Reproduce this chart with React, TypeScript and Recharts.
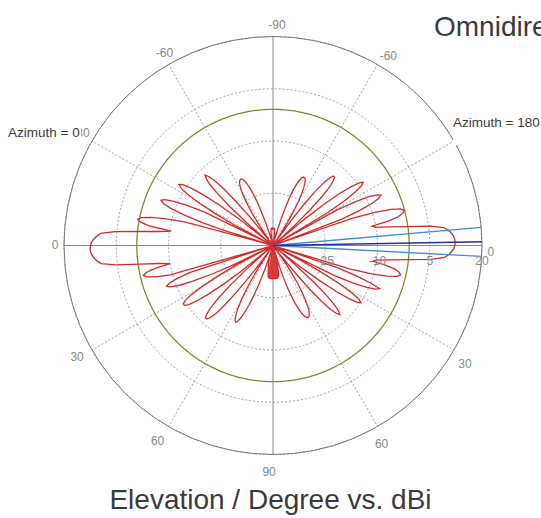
import React from 'react';
import { RadarChart, Radar, PolarGrid, PolarAngleAxis, PolarRadiusAxis } from 'recharts';

// Gain (dBi) versus elevation magnitude 0..90 deg, one value per degree
// Right side (Azimuth = 180), upper half (elevation 0 .. -90)
const gainRightUpper = [
  12.3, 12.2, 11.9, 11.3, 10.5, 9.3, 5.5, -1, -6, -10,
  -11, -6, -3, -1.6, -0.95, -1.9, -4.5, -9, -16, -40,
  -18.8, -13.3, -9.3, -6.8, -5.8, -6.8, -9.3, -13.3, -18.8, -40,
  -21.5, -15.9, -11.9, -9.4, -8.4, -9.4, -11.9, -15.9, -21.5, -29,
  -40, -37, -31, -25, -20, -16.6, -14.6, -13.6, -13.6, -14.6,
  -16.6, -20, -25, -31, -40, -37.5, -35, -32, -28.5, -25.5,
  -23, -21.2, -19.8, -18.9, -18.5, -18.5, -18.9, -19.8, -21.2, -23,
  -25.5, -28.5, -32, -35, -37.5, -40, -38, -37, -38, -40,
  -38, -36.5, -36, -35.5, -35.2, -35, -35, -35.2, -35, -35, -35,
];
// Left side (Azimuth = 0), upper half
const gainLeftUpper = [
  12.5, 12.4, 12.1, 11.5, 10.7, 9.6, 5.5, -1.5, -7, -10.5,
  -4, -1.4, -0.4, -1.4, -4, -8, -14, -40, -25, -18.3,
  -12.8, -8.8, -6.3, -5.3, -6.3, -8.8, -12.8, -18.3, -40, -27,
  -20.8, -15.3, -11.3, -8.8, -7.8, -8.8, -11.3, -15.3, -20.8, -28,
  -40, -36, -29.9, -23.4, -18.4, -14.9, -12.9, -11.9, -12.9, -14.9,
  -18.4, -23.4, -29.9, -36, -40, -38, -36, -33, -29.5, -26.5,
  -24, -22, -20.5, -19.5, -19, -18.8, -19, -19.5, -20.5, -22,
  -24, -26.5, -29.5, -33, -36, -38, -40, -38, -37, -38,
  -40, -38, -36.5, -36, -35.5, -35.2, -35, -35, -35.2, -35, -35,
];
// Left side, lower half (elevation 0 .. 90)
const gainLeftLower = [
  12.5, 12.4, 12.1, 11.5, 10.7, 9.6, 5.5, -1.5, -7, -10,
  -5.3, -2.8, -1.8, -2.8, -5.3, -9.3, -40, -14.8, -10.8, -8.3,
  -7.3, -8.3, -10.8, -14.8, -20.3, -27, -40, -28, -22, -16.8,
  -12.8, -10.3, -9.3, -9.3, -10.3, -12.8, -16.8, -22, -28, -40,
  -35, -29, -23, -18, -14.6, -12.6, -11.6, -11.6, -12.6, -14.6,
  -18, -23, -29, -35, -40, -36, -32, -28, -24.5, -21.5,
  -19, -17.2, -16, -15.5, -16, -17.2, -19, -21.5, -24.5, -28,
  -32, -36, -40, -38, -36, -35, -34, -33.5, -33, -32,
  -31, -30.8, -30.6, -30.5, -30.5, -30.5, -30.5, -30.5, -30.5, -30.5, -30.5,
];
// Right side, lower half
const gainRightLower = [
  12.3, 12.2, 11.9, 11.3, 10.5, 9.3, 5.5, -1, -6, -10,
  -11, -7, -4.2, -3, -2.4, -3.4, -6, -10.5, -17, -40,
  -20.5, -14.5, -10, -7, -8, -10.5, -14.5, -20, -40, -30,
  -23, -17.5, -13.4, -10.9, -9.9, -10.9, -13.4, -17.5, -23, -30,
  -40, -36.5, -30.5, -24, -19, -15.4, -13.4, -12.4, -13.4, -15.4,
  -19, -24, -30.5, -36.5, -40, -36, -33, -30, -27, -24.5,
  -22.2, -20.3, -18.8, -17.8, -17.2, -17, -17.2, -17.8, -18.8, -20.3,
  -22.2, -24.5, -27, -30, -34, -40, -38, -36, -34.5, -33,
  -31.5, -31, -30.8, -30.6, -30.5, -30.5, -30.5, -30.5, -30.5, -30.5, -30.5,
];
// Small filled lobe pointing straight down (elevation 80..90)
const nadirElevStart = 80;
const nadirLevels = [-31.5, -31, -30.8, -30.6, -30.5, -30.5, -30.5, -30.5, -30.5, -30.5, -30.5];

const referenceLevel = -0.9; // isotropic reference circle (dBi)

// Beam marker lines on the Azimuth = 180 side: polar angle (deg) and level
const beamUpperAngle = 4;
const beamCenterAngle = 0;
const beamLowerAngle = 356;
const beamLevel = 20;

const radiusMin = -40;
const radiusMax = 20;
const radiusTicks = [-40, -25, -10, 5, 20];
const radiusTickLabels = ['', '-25', '-10', '5', '20'];

const angleTickAngles = [0, 30, 60, 90, 120, 150, 180, 210, 240, 270, 300, 330];
const angleTickLabels = ['0', '-30', '-60', '-90', '-60', '-30', '0', '30', '60', '90', '60', '30'];
const dashedSpokes = [30, 60, 120, 150, 210, 240, 300, 330];
const solidSpokes = [0, 90, 180, 270];

const data: any[] = [];
for (let a = 0; a < 360; a++) {
  let gain: number;
  let elev: number;
  if (a <= 90) { gain = gainRightUpper[a]; elev = -a; }
  else if (a <= 180) { gain = gainLeftUpper[180 - a]; elev = -(180 - a); }
  else if (a <= 270) { gain = gainLeftLower[a - 180]; elev = a - 180; }
  else { gain = gainRightLower[360 - a]; elev = 360 - a; }
  data.push({
    angle: a,
    gain,
    ref: referenceLevel,
    nadir: elev >= nadirElevStart ? nadirLevels[elev - nadirElevStart] : radiusMin,
    beamUp: a === beamUpperAngle ? beamLevel : radiusMin,
    beamMid: a === beamCenterAngle ? beamLevel : radiusMin,
    beamLow: a === beamLowerAngle ? beamLevel : radiusMin,
  });
}

const tickFont = '"Liberation Sans", Arial, sans-serif';

const AngleTick = (props: any) => {
  const { x, y, payload } = props;
  const idx = angleTickAngles.indexOf(Number(payload.value));
  if (idx < 0) return <g />;
  const cx = props.cx ?? 273;
  const horizontal = angleTickAngles[idx] % 180 === 0;
  const tx = horizontal ? x - Math.sign(x - cx) * 6 : x;
  return (
    <text x={tx} y={y + 3} textAnchor="middle" dominantBaseline="central" fontSize={12}
      fontFamily={tickFont} fill="#8a8a8a">
      {angleTickLabels[idx]}
    </text>
  );
};

const RadiusTick = (props: any) => {
  const { x, y, payload } = props;
  const idx = radiusTicks.indexOf(Number(payload.value));
  if (idx < 0 || !radiusTickLabels[idx]) return <g />;
  return (
    <text x={x} y={y + 15} textAnchor="middle" dominantBaseline="central" fontSize={12}
      fontFamily={tickFont} fill="#8a8a8a">
      {radiusTickLabels[idx]}
    </text>
  );
};

const textStyle: React.CSSProperties = {
  position: 'absolute',
  fontFamily: '"Liberation Sans", Arial, sans-serif',
  color: '#3a3a3a',
  whiteSpace: 'nowrap',
};

export default function App() {
  return (
    <div style={{ position: 'absolute', left: 0, top: 0, width: 541, height: 518, overflow: 'hidden', background: '#fff' }}>
      <RadarChart width={541} height={518} cx={273} cy={245.5} outerRadius={209} innerRadius={0}
        startAngle={0} endAngle={360} data={data} margin={{ top: 0, right: 0, bottom: 0, left: 0 }}>
        <PolarGrid gridType="circle" polarAngles={dashedSpokes} stroke="#a0a0a0" strokeDasharray="2 2" />
        <PolarGrid gridType="circle" polarAngles={solidSpokes} polarRadius={[]} stroke="#8a8a8a" />
        <PolarAngleAxis dataKey="angle" tick={AngleTick} tickLine={false} tickSize={15}
          axisLineType="circle" stroke="#7a7a7a" />
        <PolarRadiusAxis angle={0} type="number" domain={[radiusMin, radiusMax]} ticks={radiusTicks}
          axisLine={false} tickLine={false} tick={RadiusTick} />
        <Radar dataKey="ref" stroke="#7d8c2c" strokeWidth={1.3} fill="none" dot={false} isAnimationActive={false} />
        <Radar dataKey="nadir" stroke="#d42a2a" strokeWidth={1} fill="#d42a2a" fillOpacity={0.9} dot={false} isAnimationActive={false} />
        <Radar dataKey="gain" stroke="#d42a2a" strokeWidth={1.3} fill="none" dot={false} isAnimationActive={false} />
        <Radar dataKey="beamUp" stroke="#3d8fd6" strokeWidth={1.3} fill="none" dot={false} isAnimationActive={false} />
        <Radar dataKey="beamLow" stroke="#3d8fd6" strokeWidth={1.3} fill="none" dot={false} isAnimationActive={false} />
        <Radar dataKey="beamMid" stroke="#2b2d9c" strokeWidth={1.5} fill="none" dot={false} isAnimationActive={false} />
      </RadarChart>
      <div style={{ ...textStyle, left: 434, top: 13, fontSize: 28, lineHeight: '28px' }}>Omnidirectional</div>
      <div style={{ ...textStyle, left: 0, width: 541, textAlign: 'center', top: 486, fontSize: 28, lineHeight: '28px' }}>
        Elevation / Degree vs. dBi
      </div>
      <div style={{ ...textStyle, left: 8, top: 125.5, fontSize: 13.5, lineHeight: '13.5px', background: '#fff', paddingRight: 1 }}>Azimuth = 0</div>
      <div style={{ ...textStyle, left: 453, top: 115.5, fontSize: 13.5, lineHeight: '13.5px', background: '#fff', paddingBottom: 16 }}>Azimuth = 180</div>
    </div>
  );
}
